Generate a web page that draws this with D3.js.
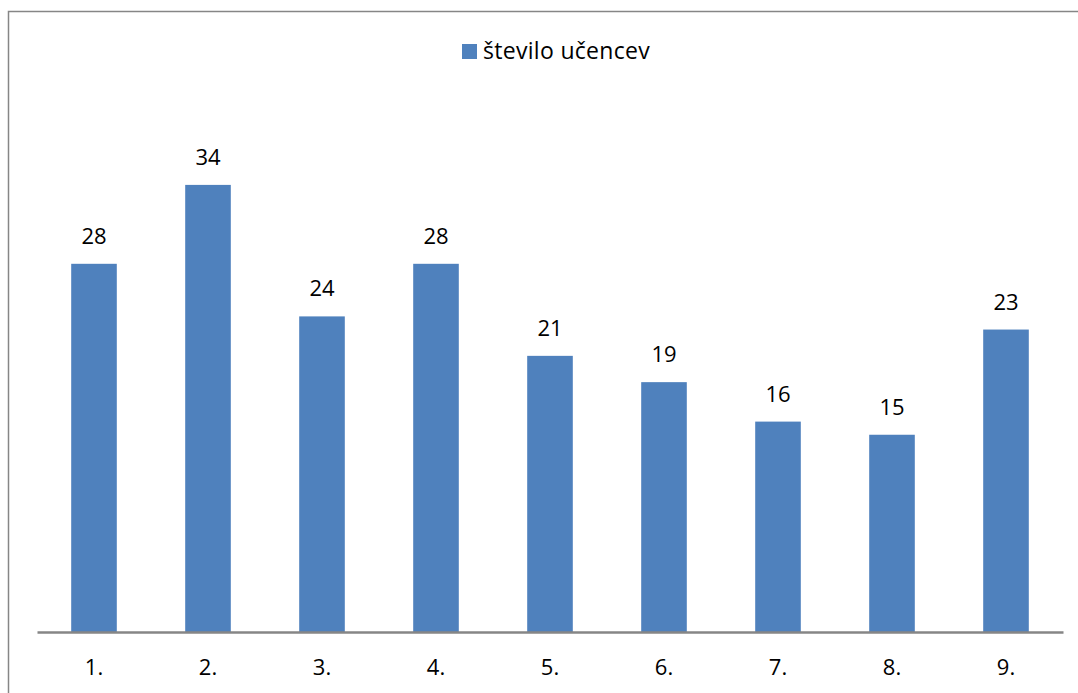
<!DOCTYPE html>
<html>
<head>
<meta charset="utf-8">
<script src="https://cdn.jsdelivr.net/npm/d3@7"></script>
<style>
  html, body { margin: 0; padding: 0; background: #fff; }
  svg { display: block; }
  text { font-family: "Open Sans", "DejaVu Sans", sans-serif; fill: #000; }
</style>
</head>
<body>
<svg id="chart" width="1078" height="693"></svg>
<script>
// Number of pupils per grade
const categories = ["1.", "2.", "3.", "4.", "5.", "6.", "7.", "8.", "9."];
const values = [28, 34, 24, 28, 21, 19, 16, 15, 23];
const seriesName = "število učencev";
const yMax = 40;

const svg = d3.select("#chart");
const W = 1078, H = 693;
const plot = { left: 37, right: 1063, top: 106, bottom: 632 };
const barColor = "#4f81bd";
const fontSize = 22;

// Chart area frame
svg.append("rect")
  .attr("x", 8.5).attr("y", 11.5)
  .attr("width", W + 10).attr("height", H + 10)
  .attr("fill", "#fff")
  .attr("stroke", "#868686")
  .attr("stroke-width", 1.5);

const x = d3.scaleBand().domain(categories).range([plot.left, plot.right]).padding(0);
const y = d3.scaleLinear().domain([0, yMax]).range([plot.bottom, plot.top]);
const barW = x.bandwidth() * 0.4;

// Bars
svg.append("g").selectAll("rect")
  .data(values)
  .join("rect")
  .attr("x", (d, i) => x(categories[i]) + (x.bandwidth() - barW) / 2)
  .attr("y", d => y(d))
  .attr("width", barW)
  .attr("height", d => y(0) - y(d))
  .attr("fill", barColor);

// Value labels
svg.append("g").selectAll("text")
  .data(values)
  .join("text")
  .attr("x", (d, i) => x(categories[i]) + x.bandwidth() / 2)
  .attr("y", d => y(d) - 20)
  .attr("text-anchor", "middle")
  .attr("font-size", fontSize)
  .text(d => d);

// Category axis
const xAxis = svg.append("g")
  .attr("transform", `translate(0,${plot.bottom})`)
  .call(d3.axisBottom(x).tickSize(0).tickPadding(27));
xAxis.select(".domain").attr("stroke", "#868686").attr("stroke-width", 2.5);
xAxis.selectAll("text")
  .attr("font-size", fontSize)
  .attr("font-family", "Open Sans, DejaVu Sans, sans-serif")
  .attr("fill", "#000");

// Legend
const legend = svg.append("g").attr("transform", "translate(462,44)");
legend.append("rect").attr("width", 15).attr("height", 15).attr("fill", barColor);
legend.append("text")
  .attr("x", 21).attr("y", 14.5)
  .attr("font-size", 23)
  .attr("letter-spacing", 0.3)
  .text(seriesName);
</script>
</body>
</html>
